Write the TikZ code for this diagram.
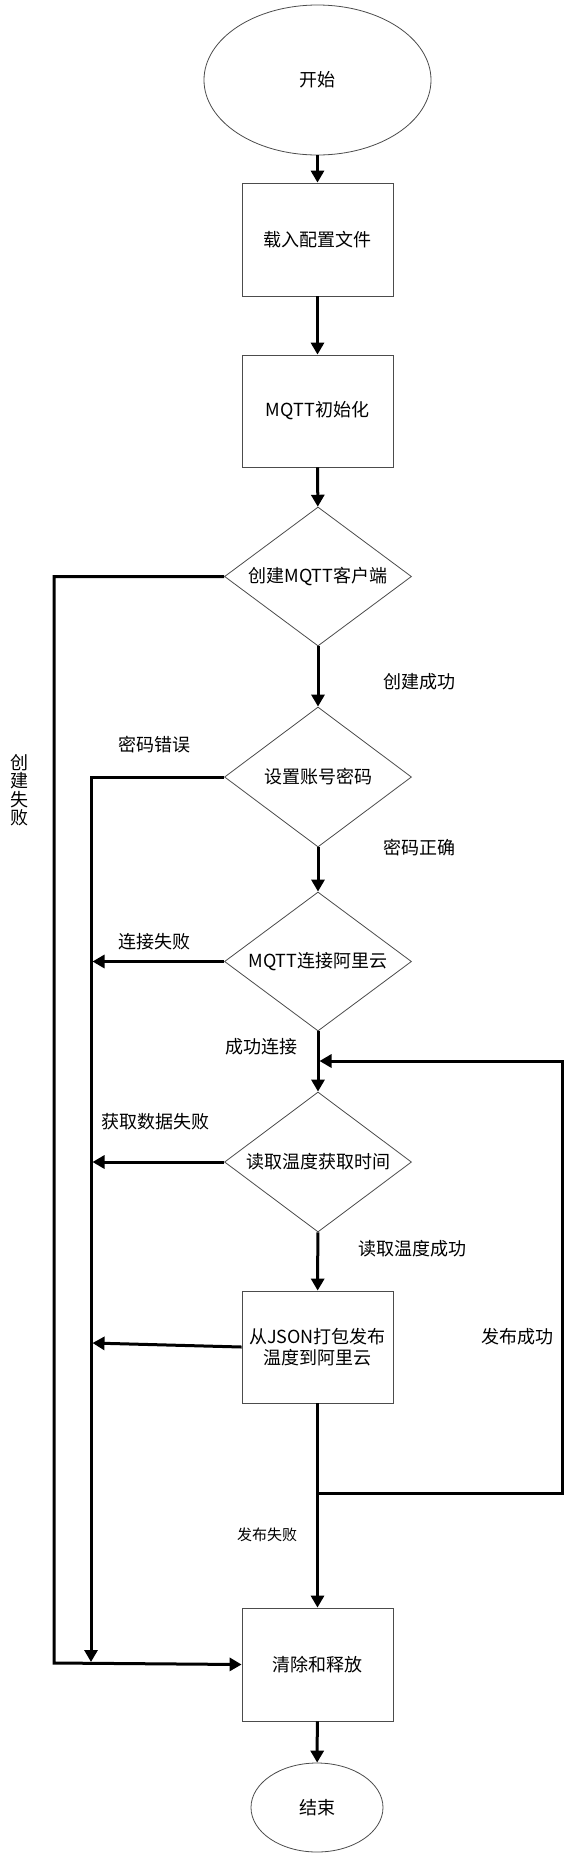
\documentclass[tikz,border=0pt]{standalone}
\usepackage{fontspec}
\setmainfont{Noto Sans CJK SC}
\usetikzlibrary{shapes.geometric,arrows.meta}
\begin{document}
\begin{tikzpicture}[x=1pt,y=-1pt,
  every node/.style={font=\fontsize{18pt}{21pt}\selectfont, inner sep=0pt},
  shp/.style={draw=black!70, line width=0.8pt, fill=white},
  term/.style={shp, ellipse},
  proc/.style={shp, rectangle, minimum width=151pt},
  dec/.style={shp, diamond, aspect=1.35, minimum width=187pt, minimum height=140pt},
  arr/.style={line width=3pt, -{Triangle[length=12pt,width=13pt]}},
  lbl/.style={text=black},
  small/.style={font=\fontsize{15pt}{17pt}\selectfont}]
\useasboundingbox (0,0) rectangle (564,1856);

% shapes
\node[term, minimum width=227pt, minimum height=150pt] (start) at (317.5,80) {开始};
\node[proc, minimum height=113pt] (load) at (317.5,239.5) {载入配置文件};
\node[proc, minimum height=112pt] (init) at (317.5,411) {MQTT初始化};
\node[dec, minimum height=139pt] (d1) at (318,576.5) {创建MQTT客户端};
\node[dec] (d2) at (318,777) {设置账号密码};
\node[dec, minimum height=139pt] (d3) at (318,961.5) {MQTT连接阿里云};
\node[dec] (d4) at (318,1162) {读取温度获取时间};
\node[proc, minimum height=112pt, align=center] (pub) at (317.5,1347) {从JSON打包发布\\温度到阿里云};
\node[proc, minimum height=113pt] (clean) at (317.5,1664.5) {清除和释放};
\node[term, minimum width=132pt, minimum height=89pt] (end) at (317,1807.5) {结束};

% helper coordinates
\coordinate (lb) at (54,1663);
\coordinate (mb) at (91,1662);
\coordinate (mbe) at (92.5,0);
\coordinate (pw) at (92.5,1343);
\coordinate (jn) at (317.5,1493);
\coordinate (rt) at (562,1061);
\coordinate (lp) at (319.5,1061);

% main flow
\draw[arr] (start) -- (load);
\draw[arr] (load) -- (init);
\draw[arr] (init) -- (d1);
\draw[arr] (d1) -- (d2);
\draw[arr] (d2) -- (d3);
\draw[arr] (d3) -- (d4);
\draw[arr] (d4) -- (pub);
\draw[arr] (pub) -- (clean);
\draw[arr] (clean) -- (end);

% failure paths
\draw[arr] (d1.west) -| (lb) -- (clean.west);
\draw[arr] (d2.west) -| (mb);
\draw[arr] (d3.west) -- (d3.west -| mbe);
\draw[arr] (d4.west) -- (d4.west -| mbe);
\draw[arr] (pub.west) -- (pw);

% loop back
\draw[arr] (jn) -| (rt) -- (lp);

% labels
\node[lbl, align=center, font=\fontsize{18pt}{18.5pt}\selectfont] (l1) at (19,790) {创\\建\\失\\败};
\node[lbl] (l2) at (154.5,745) {密码错误};
\node[lbl] (l3) at (154.5,942) {连接失败};
\node[lbl] (l4) at (155.5,1122) {获取数据失败};
\node[lbl] (l5) at (261,1047) {成功连接};
\node[lbl] (l6) at (419.5,682) {创建成功};
\node[lbl] (l7) at (419.5,848) {密码正确};
\node[lbl] (l8) at (412,1249) {读取温度成功};
\node[lbl] (l9) at (517,1337) {发布成功};
\node[lbl, small] (l10) at (267,1535) {发布失败};
\end{tikzpicture}
\end{document}
